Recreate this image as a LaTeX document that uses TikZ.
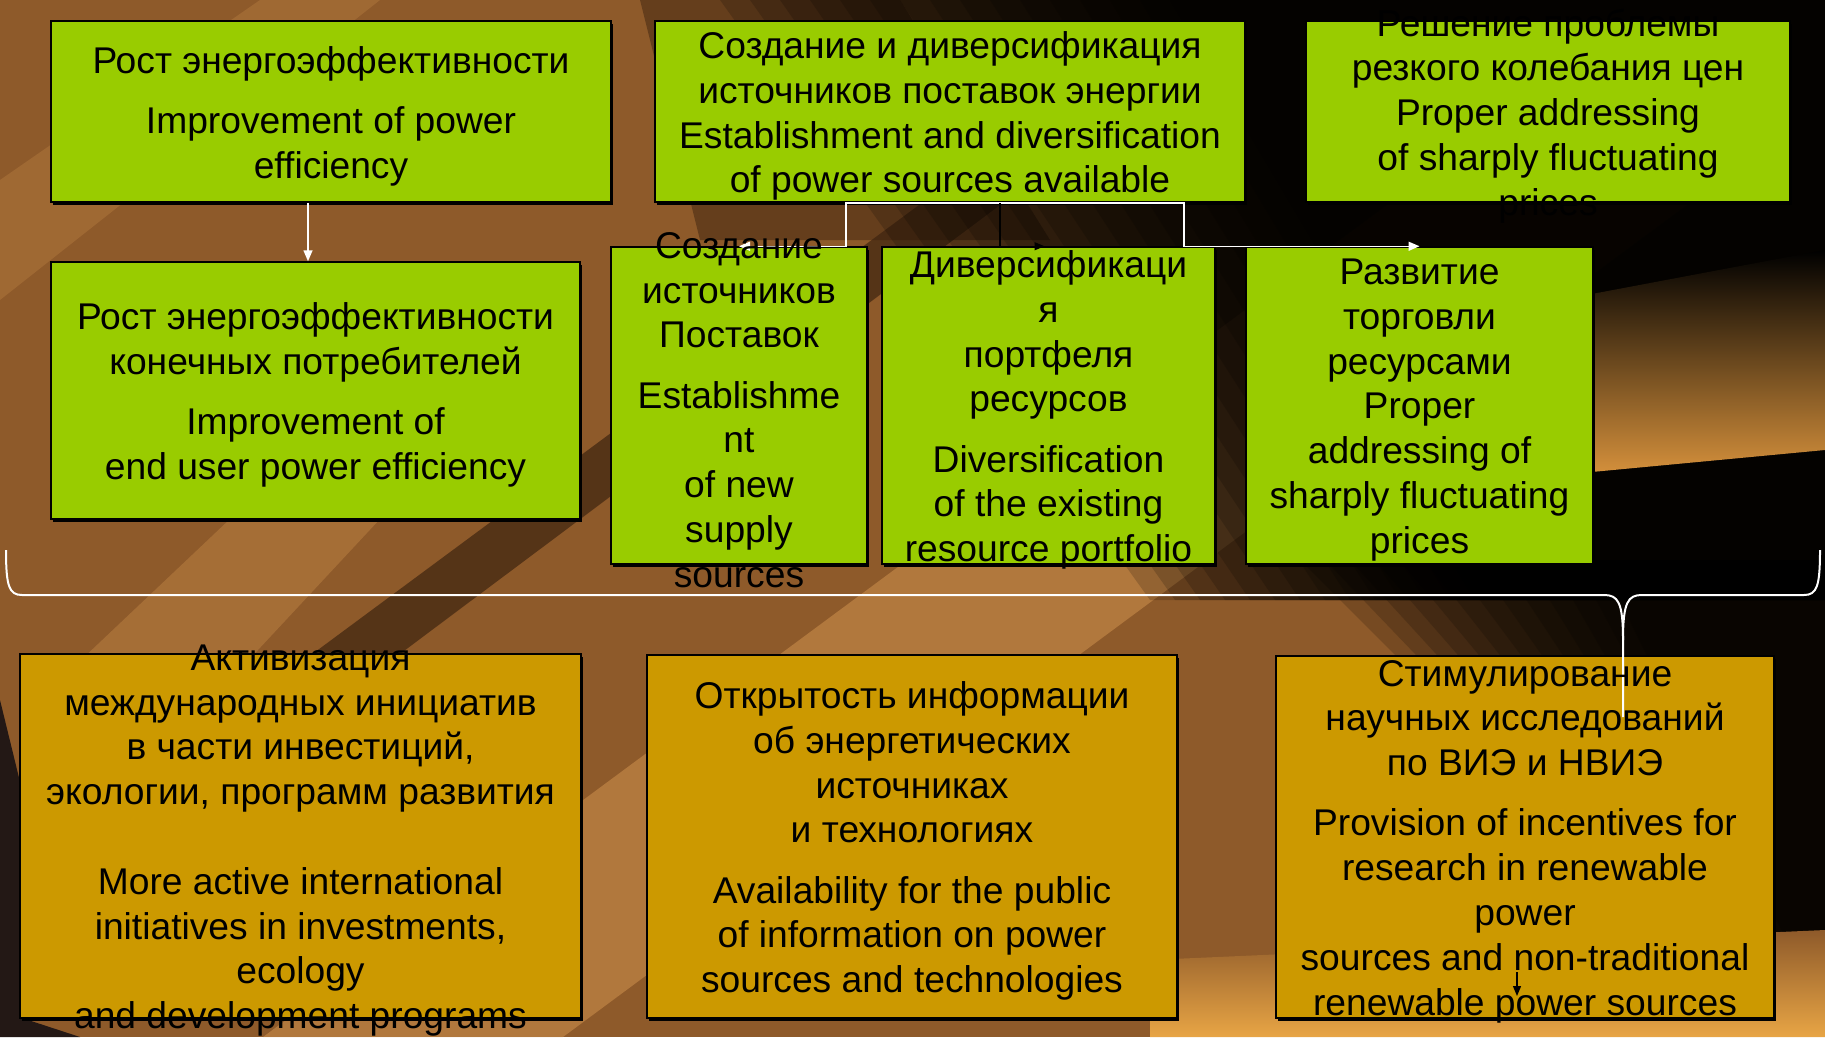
\documentclass[tikz,border=0pt]{standalone}
\usepackage{fontspec}
\setmainfont{Liberation Sans}
\usetikzlibrary{arrows.meta,shadows}
\definecolor{boxgreen}{HTML}{99CC00}
\definecolor{boxgold}{HTML}{CC9900}
\definecolor{bgbase}{HTML}{8E5A2A}
\definecolor{bglight}{HTML}{C98C4A}
\definecolor{bgdark}{HTML}{3E2410}
\definecolor{bgglow}{HTML}{D6913C}
\definecolor{bgcorner}{HTML}{231815}
\definecolor{bgbright}{HTML}{E8A545}
\tikzset{
  gbox/.style={draw=black, line width=1.5pt, fill=boxgreen, inner sep=0pt,
    drop shadow={shadow xshift=2pt, shadow yshift=-3pt, opacity=1, fill=black}},
  obox/.style={draw=black, line width=1.5pt, fill=boxgold, inner sep=0pt,
    drop shadow={shadow xshift=2pt, shadow yshift=-3pt, opacity=1, fill=black}},
  txt/.style={align=center, inner sep=0pt, text=black, yshift=-4.5pt,
    font=\fontsize{37.2}{44.8}\selectfont},
  wline/.style={draw=white, line width=1.5pt},
  warrows/.style={wline, {Triangle[length=11pt,width=9pt]}-{Triangle[length=11pt,width=9pt]}},
  warrow/.style={wline, -{Triangle[length=11pt,width=9pt]}},
  barrow/.style={draw=black, line width=1.2pt, -{Triangle[length=10pt,width=8pt]}},
  bracestyle/.style={draw=white, line width=2pt},
}
\begin{document}
\begin{tikzpicture}[x=1pt,y=-1pt]
\useasboundingbox (0,0) rectangle (1825,1037);
% ---------- background ----------
\begin{scope}
\clip (0,0) rectangle (1825,1037);
\fill[bgbase] (0,0) rectangle (1825,1037);
% diagonal bands
\fill[bglight,opacity=0.6] (263,1037) -- (563,1037) -- (1691,202) -- (1391,202) -- cycle;
\fill[bglight,opacity=0.4] (60,680) -- (230,680) -- (380,519) -- (230,519) -- cycle;
\fill[bglight,opacity=0.3] (0,300) -- (0,180) -- (260,0) -- (380,0) -- cycle;
\fill[bgdark,opacity=0.7] (-205,1037) -- (-112,1037) -- (1004,202) -- (923,202) -- cycle;
\fill[bgdark,opacity=0.5] (640,0) -- (900,0) -- (1050,240) -- (700,240) -- cycle;
% darkening to the upper right
\foreach \i in {0,...,15}
  \fill[black,opacity=0.17] ({720+30*\i},0) -- (1825,0) -- (1825,600) -- ({1150+25*\i},600) -- cycle;
% darkening lower right
\foreach \i in {0,...,12}
  \fill[black,opacity=0.17] ({1300+25*\i},560) -- (1825,560) -- (1825,960) -- ({1700+8*\i},960) -- cycle;
% glow on the right
\shade[top color=black, bottom color=bgglow] (1560,300) -- (1825,250) -- (1825,450) -- (1560,475) -- cycle;
% bright bottom right
\shade[top color=bgbase, bottom color=bgbright] (1150,960) -- (1825,930) -- (1825,1037) -- (1150,1037) -- cycle;
% dark bottom left corner
\fill[bgcorner] (0,700) -- (22,790) -- (22,1018) -- (80,1037) -- (0,1037) -- cycle;
\end{scope}
% ---------- boxes ----------
\node[gbox, minimum width=560pt, minimum height=181pt] (A) at (331,111.5) {};
\node[gbox, minimum width=590pt, minimum height=181pt] (B) at (950,111.5) {};
\node[gbox, minimum width=484pt, minimum height=181pt] (C) at (1548,111.5) {};
\node[gbox, minimum width=529pt, minimum height=257pt] (D) at (315.5,390.5) {};
\node[gbox, minimum width=256pt, minimum height=317pt] (E) at (739,405.5) {};
\node[gbox, minimum width=333pt, minimum height=317pt] (F) at (1048.5,405.5) {};
\node[gbox, minimum width=347pt, minimum height=317pt] (G) at (1419.5,405.5) {};
\node[obox, minimum width=561pt, minimum height=364pt] (H) at (300.5,836) {};
\node[obox, minimum width=530pt, minimum height=363pt] (I) at (912,836.5) {};
\node[obox, minimum width=498pt, minimum height=362pt] (J) at (1525,837) {};
% ---------- connectors ----------
\coordinate (ax) at (308,0);
\draw[warrow] (A.south -| ax) -- (D.north -| ax);
\coordinate (bl) at (846,0);
\coordinate (br) at (1184,0);
\draw[warrows] (E.north) -- (E.north -| bl) -- (B.south -| bl) -- (B.south -| br) -- (G.north -| br) -- (G.north);
\coordinate (bm) at (1000,0);
\draw[barrow] (B.south -| bm) -- (F.north -| bm) -- ([xshift=-4pt]F.north);
% ---------- brace ----------
\coordinate (braceL) at (6,550);
\coordinate (braceR) at (1820,550);
\coordinate (braceTip) at (1623,640);
\coordinate (braceEnd) at (1623,717);
\draw[bracestyle] (braceL) .. controls (6,586) and (9,595) .. (22,595) -- (1604,595) .. controls (1618,595) and (1623,602) .. (braceTip) -- (braceEnd);
\draw[bracestyle] (braceTip) .. controls (1623,602) and (1628,595) .. (1642,595) -- (1804,595) .. controls (1817,595) and (1820,586) .. (braceR);
% ---------- small arrow in J ----------
\coordinate (jarS) at (1517,972);
\coordinate (jarE) at (1517,996);
\draw[barrow] (jarS) -- (jarE);
% ---------- texts ----------
\node[txt] (At) at (A.center) {Рост энергоэффективности\\[15.5pt]Improvement of power\\efficiency};
\node[txt] (Bt) at (B.center) {Создание и диверсификация\\источников поставок энергии\\Establishment and diversification\\of power sources available};
\node[txt] (Ct) at (C.center) {Решение проблемы\\резкого колебания цен\\Proper addressing\\of sharply fluctuating\\prices};
\node[txt] (Dt) at (D.center) {Рост энергоэффективности\\конечных потребителей\\[15.5pt]Improvement of\\end user power efficiency};
\node[txt] (Et) at (E.center) {Создание\\источников\\Поставок\\[15.5pt]Establishme\\nt\\of new\\supply\\sources};
\node[txt] (Ft) at (F.center) {Диверсификаци\\я\\портфеля\\ресурсов\\[15.5pt]Diversification\\of the existing\\resource portfolio};
\node[txt] (Gt) at (G.center) {Развитие\\торговли\\ресурсами\\Proper\\addressing of\\sharply fluctuating\\prices};
\node[txt] (Ht) at (H.center) {Активизация\\международных инициатив\\в части инвестиций,\\экологии, программ развития\\[44.8pt]More active international\\initiatives in investments,\\ecology\\and development programs};
\node[txt] (It) at (I.center) {Открытость информации\\об энергетических\\источниках\\и технологиях\\[15.5pt]Availability for the public\\of information on power\\sources and technologies};
\node[txt] (Jt) at (J.center) {Стимулирование\\научных исследований\\по ВИЭ и НВИЭ\\[15.5pt]Provision of incentives for\\research in renewable\\power\\sources and non-traditional\\renewable power sources};
\end{tikzpicture}
\end{document}
